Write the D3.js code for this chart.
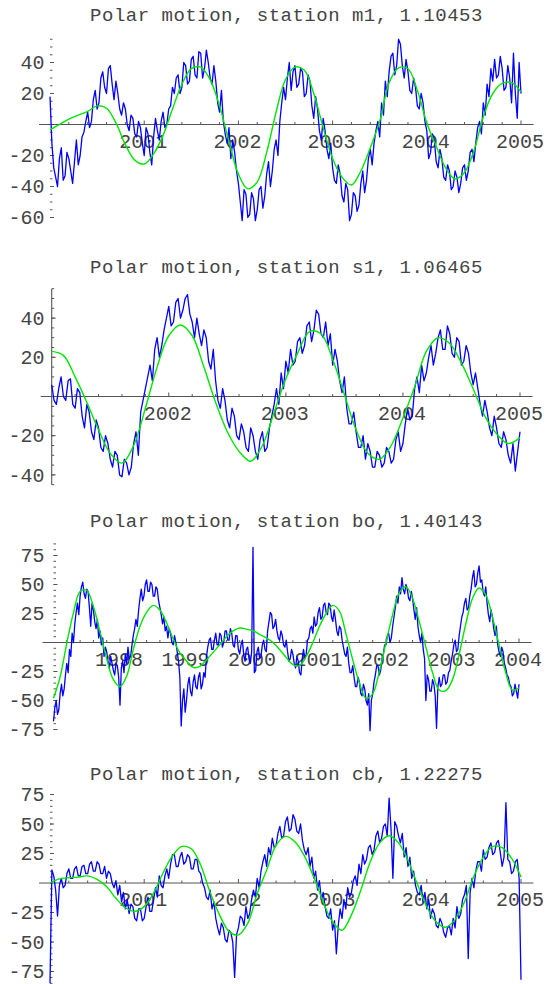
<!DOCTYPE html>
<html>
<head>
<meta charset="utf-8">
<script src="https://cdn.jsdelivr.net/npm/d3@7"></script>
<style>
body { margin: 0; background: #fff; }
text { font-family: "Liberation Mono", "Courier New", monospace; fill: #444; }
</style>
</head>
<body>
<div id="vis"></div>
<script>
// ---- station m1 (measured values read every 0.02 yr, fit every 0.1 yr)
var m1Title = "Polar motion, station m1, 1.10453";
var m1Years = [2000, 2005];
var m1YearTicks = [2001, 2002, 2003, 2004, 2005];
var m1ValTicks = [-60, -40, -20, 20, 40];
var m1Blue = [
  18, -12, -28, -34, -40, -22, -15, -36, -33, -18, -22, -30, -38, -24, -10, -26, -20, -8, -5, 2,
  8, -2, 2, 16, 22, 10, 14, 30, 34, 24, 20, 36, 38, 26, 16, 28, 20, 10, 6, 14,
  10, 0, -4, 6, 4, -6, -8, 2, -2, -12, -20, -2, -6, -18, -26, -8, 4, -4, -10, 2,
  8, -2, 0, 10, 12, 24, 20, 30, 32, 20, 24, 40, 38, 26, 28, 42, 44, 32, 30, 47,
  46, 30, 36, 48, 40, 30, 26, 38, 28, 14, 8, 22, 2, -6, -12, -2, -22, -10, -18, -30,
  -38, -50, -62, -42, -45, -60, -58, -44, -48, -62, -55, -42, -40, -54, -46, -32, -24, -40, -30, -16,
  -10, -20, 2, 14, 24, 16, 30, 40, 22, 34, 38, 24, 26, 36, 34, 18, 20, 32, 28, 12,
  4, 18, 10, -4, -10, 4, -4, -16, -22, -12, -28, -36, -38, -26, -32, -46, -50, -38, -42, -62,
  -58, -44, -46, -56, -52, -38, -30, -44, -36, -22, -16, -26, -12, -4, 2, -8, 14, 6, 28, 18,
  34, 44, 46, 32, 38, 55, 52, 38, 30, 42, 34, 22, 20, 30, 24, 12, 10, 20, 14, 2,
  -4, -22, -18, -6, -10, -24, -28, -16, -22, -34, -36, -26, -30, -42, -40, -30, -34, -44, -38, -28,
  -26, -36, -30, -18, -16, -24, -12, -2, 2, -6, 14, 6, 26, 18, 36, 28, 42, 30, 32, 44,
  36, 22, 24, 38, 30, 14, 46, 20, 4, 40, 20
];
var m1Green = [
  -3.5, 0, 3.5, 6, 8.5, 12, 10.5, 1, -13, -23,
  -25.5, -19, -7, 10, 26, 36, 37, 29, 12, -11,
  -32, -41.5, -37, -18, 8, 29, 37, 35, 20, -2,
  -22, -34, -39, -30, -15, 2, 27, 36.5, 36, 22,
  1, -14, -28, -35, -31, -17, 5, 20, 26.5, 27,
  21
];

// ---- station s1
var s1Title = "Polar motion, station s1, 1.06465";
var s1Years = [2001, 2005];
var s1YearTicks = [2002, 2003, 2004, 2005];
var s1ValTicks = [-40, -20, 20, 40];
var s1Blue = [
  6, -2, -4, 4, 10, 0, -2, 8, 9, -4, -6, 4, 2, -10, -16, -4, -8, -18, -22, -12,
  -16, -26, -28, -20, -24, -32, -36, -28, -30, -40, -41, -32, -34, -40, -36, -24, -18, -30, -8, -2,
  4, 10, 16, 8, 24, 30, 20, 26, 34, 40, 46, 36, 38, 48, 50, 40, 44, 50, 52, 42,
  38, 30, 40, 32, 26, 34, 30, 18, 14, 24, 8, -2, -6, 4, -2, -12, -16, -6, -10, -20,
  -22, -14, -18, -26, -28, -16, -20, -28, -32, -22, -18, -28, -26, -16, -10, -4, 4, -4, 12, 4,
  18, 12, 24, 16, 18, 28, 30, 22, 26, 36, 38, 28, 34, 44, 42, 32, 30, 38, 26, 32,
  16, 24, 18, 8, 2, 10, -6, -14, -14, -8, -18, -26, -26, -20, -32, -24, -28, -36, -36, -28,
  -30, -36, -34, -26, -28, -34, -32, -22, -18, -28, -24, -14, -6, -12, -10, 4, 10, 2, 16, 8,
  12, 20, 26, 16, 22, 30, 34, 24, 24, 36, 32, 22, 20, 30, 28, 16, 18, 26, 22, 12,
  6, 12, 4, -4, -10, -2, -8, -16, -20, -10, -16, -24, -26, -18, -22, -30, -34, -24, -38, -28,
  -18
];
var s1Green = [
  23, 21, 10, -3, -17, -29, -34, -25, -6, 15,
  31, 36.5, 31, 15, -3, -18, -28, -33, -25, -8,
  9, 22, 33, 32, 19, 1, -17, -29, -32, -25,
  -11, 5, 23, 30, 27, 17, 4, -10, -19, -24,
  -21
];

// ---- station bo
var boTitle = "Polar motion, station bo, 1.40143";
var boYears = [1997, 2004];
var boYearTicks = [1998, 1999, 2000, 2001, 2002, 2003, 2004];
var boValTicks = [-75, -50, -25, 25, 50, 75];
var boBlue = [
  -68, -56, -50, -62, -58, -44, -36, -46, -40, -28, -18, -26, -6, -12, 8, 0, 16, 26, 34, 24,
  40, 48, 52, 42, 38, 46, 44, 30, 14, 34, 28, 18, 12, 20, 4, 10, -2, 4, -12, -4,
  -8, -16, -22, -12, -18, -24, -28, -18, -20, -30, -54, -22, -16, -26, -10, -18, -4, -14, -12, -2,
  6, 12, 20, 14, 28, 38, 46, 36, 40, 50, 54, 44, 44, 52, 50, 40, 40, 48, 46, 36,
  30, 24, 16, 22, 10, 14, 4, 12, 8, 0, -2, 6, 0, -8, -16, -30, -72, -50, -40, -60,
  -50, -36, -30, -42, -46, -34, -28, -38, -40, -30, -26, -40, -36, -26, -30, -12, -4, 2, 4, -6,
  -6, 2, 8, -2, -2, 8, 6, -4, 0, 10, 10, 2, 2, 12, 8, -2, -4, 6, 6, -6,
  -10, -2, 2, -10, -16, -6, -4, -14, -18, -8, 82, -26, -24, -8, -4, -14, -12, -2, 2, -6,
  -8, 10, 18, 26, 24, 12, 14, 20, 10, 4, 2, 10, 6, -2, -4, 2, -8, -16, -14, -6,
  -10, -18, -22, -12, -16, -26, -28, -14, -6, -14, -10, 2, 4, 12, 14, 8, 22, 14, 16, 26,
  30, 20, 22, 32, 34, 26, 24, 34, 32, 22, 18, 28, 20, 10, 6, 14, 12, 2, -4, -10,
  -12, -4, -18, -26, -26, -20, -30, -38, -38, -30, -34, -44, -46, -36, -40, -50, -54, -44, -76, -50,
  -44, -34, -28, -20, -20, -28, -24, -14, -10, -2, -2, 6, 8, 0, 4, 14, 22, 30, 40, 34,
  48, 42, 56, 46, 42, 50, 46, 38, 36, 44, 38, 28, 20, 30, 14, 6, 0, 8, -6, -14,
  -50, -28, -32, -42, -42, -32, -36, -46, -74, -38, -30, -38, -36, -28, -28, -36, -34, -26, -24, -16,
  -10, -2, 2, -8, -6, 6, 14, 22, 26, 34, 38, 28, 30, 40, 46, 56, 62, 48, 50, 60,
  66, 52, 54, 44, 40, 48, 34, 24, 18, 28, 22, 12, 6, 14, -2, -8, -12, -4, -8, -18,
  -22, -28, -30, -36, -38, -46, -44, -36, -42, -48, -36
];
var boGreen = [
  -48, -29.5, -0.5, 25.5, 44, 45, 31, 9, -14, -32,
  -38, -29, -6, 14, 26, 32, 28, 17, 3, -9,
  -16, -21.5, -20.5, -15, -8.5, -2, 5, 10, 12.5, 11.5,
  10, 7, 4, 0, -6, -13, -19, -20, -12, 0,
  14, 25, 32, 27, 7, -15, -35, -48, -44, -25,
  0, 24, 43, 48, 38, 18, -4, -26, -41, -41.5,
  -32, -10, 16, 38, 47, 41, 22, -2, -26, -41,
  -39
];

// ---- station cb
var cbTitle = "Polar motion, station cb, 1.22275";
var cbYears = [2000, 2005];
var cbYearTicks = [2001, 2002, 2003, 2004, 2005];
var cbValTicks = [-75, -50, -25, 25, 50, 75];
var cbBlue = [
  -85, 11, 6, -6, -28, -2, 4, -4, -2, 8, 12, 4, 4, 12, 14, 6, 6, 14, 15, 8,
  8, 16, 18, 10, 10, 18, 16, 8, 8, 14, 4, 10, 8, 0, -4, 2, -10, -2, -16, -8,
  -22, -14, -26, -18, -20, -30, -32, -22, -22, -32, -30, -20, -12, -24, -24, -14, -4, -12, 6, -2,
  -4, 6, 12, 4, 16, 24, 24, 14, 14, 22, 26, 16, 18, 24, 22, 12, 12, 20, 20, 10,
  8, 0, -4, -12, -14, -6, -22, -16, -30, -38, -44, -34, -38, -48, -50, -40, -42, -50, -80, -44,
  -38, -28, -30, -36, -20, -30, -26, -14, -6, -12, 4, -4, 10, 18, 24, 14, 30, 24, 38, 30,
  32, 42, 48, 38, 40, 52, 56, 44, 46, 58, 54, 44, 42, 50, 36, 28, 24, 30, 14, 22,
  4, 10, -6, 2, -14, -8, -20, -28, -30, -22, -40, -32, -60, -36, -22, -30, -14, -22, -4, -12,
  -8, 2, 6, -2, 16, 8, 24, 16, 20, 30, 32, 24, 28, 40, 44, 34, 38, 48, 50, 40,
  72, 46, 4, 52, 48, 40, 34, 42, 22, 30, 14, 22, 4, 10, -2, -8, -10, -2, -16, -8,
  -22, -14, -30, -22, -26, -36, -38, -30, -34, -42, -46, -38, -36, -44, -30, -38, -20, -30, -26, -14,
  -10, -2, -64, -8, 4, -4, 10, 18, 18, 10, 28, 20, 22, 30, 34, 24, 26, 34, 36, 26,
  14, 22, 68, 20, 18, 8, 10, 18, 20, 4, -82
];
var cbGreen = [
  0, 3.5, 4.5, 5, 6, 3, -3, -13, -21, -24,
  -20, -8.5, 8.5, 23, 31, 29, 15, -8, -27, -41,
  -44, -34, -9, 11, 32, 39.5, 35, 23, 5, -16,
  -33, -40, -27, -6, 18, 34, 40, 34, 19, -1,
  -20, -33, -37.5, -31, -16, 6, 22, 31, 30, 21,
  5
];

// layout of the four stacked plots (pixels)
var panels = [
  {title: m1Title, years: m1Years, yearTicks: m1YearTicks, valTicks: m1ValTicks, blue: m1Blue, green: m1Green,
   xr: [50, 521], vdom: [-60, 55], vr: [217.5, 39.25], titleY: 21, yLine: false},
  {title: s1Title, years: s1Years, yearTicks: s1YearTicks, valTicks: s1ValTicks, blue: s1Blue, green: s1Green,
   xr: [51.7, 520], vdom: [-45, 55], vr: [484.7, 288.7], titleY: 273, yLine: true},
  {title: boTitle, years: boYears, yearTicks: boYearTicks, valTicks: boValTicks, blue: boBlue, green: boGreen,
   xr: [53.5, 519], vdom: [-75, 85], vr: [729.5, 543.9], titleY: 527, yLine: false},
  {title: cbTitle, years: cbYears, yearTicks: cbYearTicks, valTicks: cbValTicks, blue: cbBlue, green: cbGreen,
   xr: [50, 521], vdom: [-85, 75], vr: [983.3, 794.5], titleY: 780, yLine: false}
];

var svg = d3.select("#vis").append("svg")
  .attr("width", 549)
  .attr("height", 984);

var axisColor = "#555";

panels.forEach(function(p) {
  var g = svg.append("g");
  var x = d3.scaleLinear().domain(p.years).range(p.xr);
  var y = d3.scaleLinear().domain(p.vdom).range(p.vr);
  var y0 = y(0), x0 = x(p.years[0]);

  g.append("text")
    .attr("x", 286.5)
    .attr("y", p.titleY)
    .attr("text-anchor", "middle")
    .attr("font-size", 19)
    .attr("letter-spacing", "0.5px")
    .text(p.title);

  // horizontal axis
  g.append("line")
    .attr("x1", p.xr[0] - 11).attr("x2", p.xr[1] + 12.5)
    .attr("y1", y0).attr("y2", y0)
    .attr("stroke", axisColor).attr("stroke-width", 1.1);

  // minor year ticks every 0.2 yr
  var minorX = d3.range(p.years[0] * 5 + 1, p.years[1] * 5 + 1)
    .filter(function(k) { return k % 5 !== 0; })
    .map(function(k) { return k / 5; });
  g.selectAll(".mx").data(minorX).enter().append("line")
    .attr("x1", function(d) { return x(d); }).attr("x2", function(d) { return x(d); })
    .attr("y1", y0).attr("y2", y0 - 2.5)
    .attr("stroke", axisColor).attr("stroke-width", 1);
  g.selectAll(".Mx").data(p.yearTicks).enter().append("line")
    .attr("x1", function(d) { return x(d); }).attr("x2", function(d) { return x(d); })
    .attr("y1", y0).attr("y2", y0 - 4)
    .attr("stroke", axisColor).attr("stroke-width", 1);
  g.selectAll(".xl").data(p.yearTicks).enter().append("text")
    .attr("x", function(d) { return x(d) - 1; })
    .attr("y", y0 + 23)
    .attr("text-anchor", "middle")
    .attr("font-size", 20)
    .text(function(d) { return d; });

  // vertical axis (only drawn as a line on the s1 plot)
  if (p.yLine) {
    g.append("line")
      .attr("x1", x0).attr("x2", x0)
      .attr("y1", y(p.vdom[0])).attr("y2", y(p.vdom[1]))
      .attr("stroke", axisColor).attr("stroke-width", 1.1);
  }
  var minorY = d3.range(p.vdom[0], p.vdom[1] + 1, 5);
  g.selectAll(".my").data(minorY).enter().append("line")
    .attr("x1", x0).attr("x2", x0 + 2.5)
    .attr("y1", function(d) { return y(d); }).attr("y2", function(d) { return y(d); })
    .attr("stroke", axisColor).attr("stroke-width", 1);
  g.selectAll(".My").data(p.valTicks).enter().append("line")
    .attr("x1", x0).attr("x2", x0 + 4)
    .attr("y1", function(d) { return y(d); }).attr("y2", function(d) { return y(d); })
    .attr("stroke", axisColor).attr("stroke-width", 1);
  g.selectAll(".yl").data(p.valTicks).enter().append("text")
    .attr("x", 44.5)
    .attr("y", function(d) { return y(d); })
    .attr("dy", "0.33em")
    .attr("text-anchor", "end")
    .attr("font-size", 20)
    .text(function(d) { return d; });

  // measured series: evenly spaced over the station's span
  var tb = d3.scaleLinear().domain([0, p.blue.length - 1]).range(p.years);
  var blueLine = d3.line()
    .x(function(d, i) { return x(tb(i)); })
    .y(function(d) { return y(d); });
  g.append("path")
    .datum(p.blue)
    .attr("d", blueLine)
    .attr("fill", "none")
    .attr("stroke", "#0000ff")
    .attr("stroke-width", 1.3)
    .attr("stroke-linejoin", "round");

  // fitted curve
  var tg = d3.scaleLinear().domain([0, p.green.length - 1]).range(p.years);
  var greenLine = d3.line()
    .x(function(d, i) { return x(tg(i)); })
    .y(function(d) { return y(d); })
    .curve(d3.curveCatmullRom.alpha(0.5));
  g.append("path")
    .datum(p.green)
    .attr("d", greenLine)
    .attr("fill", "none")
    .attr("stroke", "#00e600")
    .attr("stroke-width", 1.4);
});
</script>
</body>
</html>
